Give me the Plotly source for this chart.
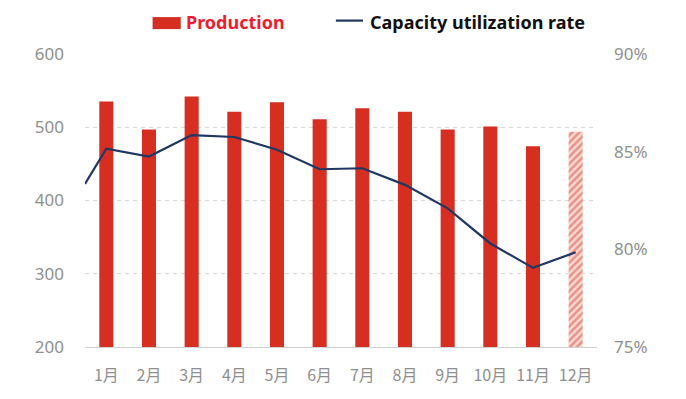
import plotly.graph_objects as go

months = ["1月", "2月", "3月", "4月", "5月", "6月", "7月", "8月", "9月", "10月", "11月", "12月"]
production = [535, 497, 542, 521, 534, 511, 526, 521, 497, 501, 474, 494]
utilization = [85.15, 84.75, 85.85, 85.75, 85.1, 84.1, 84.15, 83.3, 82.1, 80.3, 79.05, 79.85]
util_carry_in = 83.35  # value entering from the left edge (previous month)
forecast_flags = [False] * 11 + [True]

left_ticks = [200, 300, 400, 500, 600]
right_ticks = [75, 80, 85, 90]
right_ticktext = ["75%", "80%", "85%", "90%"]

BAR_RED = "#d62f22"
NAVY = "#1f3763"
GREY = "#8f8f8f"

idx = list(range(len(months)))
x_range = [-0.5, len(months) - 0.5]

fig = go.Figure()

solid_x = [i for i, f in zip(idx, forecast_flags) if not f]
solid_y = [p for p, f in zip(production, forecast_flags) if not f]
fc_x = [i for i, f in zip(idx, forecast_flags) if f]
fc_y = [p for p, f in zip(production, forecast_flags) if f]

fig.add_trace(go.Bar(x=solid_x, y=solid_y, width=0.33, marker=dict(color=BAR_RED, line=dict(width=0)),
                     name="Production", showlegend=False))
fig.add_trace(go.Bar(x=fc_x, y=fc_y, width=0.33,
                     marker=dict(color="#f6d3cc", line=dict(width=0),
                                 pattern=dict(shape="/", fgcolor="#dc4a3a", bgcolor="#f8d9d2",
                                              size=5, solidity=0.5)),
                     name="Production (forecast)", showlegend=False))

line_x = [x_range[0]] + idx
line_y = [util_carry_in] + utilization
fig.add_trace(go.Scatter(x=line_x, y=line_y, yaxis="y2", mode="lines",
                         line=dict(color=NAVY, width=2.2), name="Capacity utilization rate",
                         showlegend=False))

tickfont = dict(family="Noto Sans, Open Sans, sans-serif", size=17, color=GREY)

# page body has an 8px default margin, so the figure is sized/offset to land on the same pixels
fig.update_layout(
    width=678, height=391,
    margin=dict(l=77, r=89, t=46, b=52),
    paper_bgcolor="white", plot_bgcolor="white",
    bargap=0.6,
    xaxis=dict(range=x_range, tickvals=idx, ticktext=months, showgrid=False, zeroline=False,
               showline=True, linecolor="#d0d0d0", linewidth=1.3, ticks="",
               tickfont=dict(family="Noto Sans CJK SC, Noto Sans, sans-serif", size=16, color=GREY),
               ticklabelstandoff=14),
    yaxis=dict(range=[200, 600], tickvals=left_ticks, showgrid=True, gridcolor="#d8d8d8",
               griddash="4px,4px", gridwidth=1, zeroline=False, showline=False, ticks="",
               tickfont=tickfont, ticklabelstandoff=20),
    yaxis2=dict(range=[75, 90], tickvals=right_ticks, ticktext=right_ticktext, overlaying="y",
                side="right", showgrid=False, zeroline=False, showline=False, ticks="",
                tickfont=tickfont, ticklabelstandoff=16),
)

# legend drawn above the plot
fig.add_shape(type="rect", xref="paper", yref="paper", x0=0.132, x1=0.187, y0=1.085, y1=1.126,
              fillcolor=BAR_RED, line=dict(width=0))
fig.add_shape(type="line", xref="paper", yref="paper", x0=0.490, x1=0.543, y0=1.114, y1=1.114,
              line=dict(color=NAVY, width=2.2))
fig.add_annotation(text="<b>Production</b>", xref="paper", yref="paper", x=0.193, y=1.108,
                   xanchor="left", yanchor="middle", showarrow=False,
                   font=dict(family="Noto Sans, Open Sans, sans-serif", size=18, color="#ee1c2e"))
fig.add_annotation(text="<b>Capacity utilization rate</b>", xref="paper", yref="paper", x=0.552, y=1.108,
                   xanchor="left", yanchor="middle", showarrow=False,
                   font=dict(family="Noto Sans, Open Sans, sans-serif", size=18, color="#111111"))

fig.write_html("out.html")
